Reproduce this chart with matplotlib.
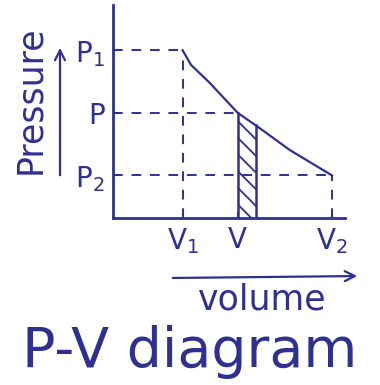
import numpy as np
import matplotlib.pyplot as plt
from matplotlib.patches import FancyArrowPatch

# volumes and pressures of the marked states
V1, V, dV_end, V2 = 2.4, 4.3, 4.93, 7.55
P1, P, P2 = 6.3, 3.95, 1.6

# expansion curve from (V1, P1) down to (V2, P2)
curve_v = [2.4, 2.69, 3.34, 4.3, 5.0, 6.1, 7.55]
curve_p = [6.3, 5.75, 5.07, 3.95, 3.42, 2.55, 1.6]

# thin strip under the curve (work element p dV)
strip_v = [V, dV_end]
strip_p = [P, 3.5]

vol_ticks = [V1, V, V2]
vol_labels = ["V$_1$", "V", "V$_2$"]
pr_ticks = [P2, P, P1]
pr_labels = ["P$_2$", "P", "P$_1$"]

ink = "#2e3192"
plt.rcParams["hatch.linewidth"] = 1.3
plt.rcParams["hatch.color"] = ink
plt.rcParams["mathtext.default"] = "regular"

fig = plt.figure(figsize=(3.8, 3.85), dpi=100)
ax = fig.add_axes([113 / 380, 167 / 385, 232 / 380, 213 / 385])
ax.set_xlim(0, 8)
ax.set_ylim(0, 8)

# pressure-volume curve
ax.plot(curve_v, curve_p, color=ink, lw=1.6, solid_joinstyle="round")

# dashed guide lines to the axes
dash = dict(color=ink, lw=1.4, dashes=(5, 4.5))
ax.plot([0, V1], [P1, P1], **dash)
ax.plot([0, V], [P, P], **dash)
ax.plot([0, V2], [P2, P2], **dash)
ax.plot([V1, V1], [0, P1], **dash)
ax.plot([V2, V2], [0, P2], **dash)

# hatched strip
ax.fill_between(strip_v, 0, strip_p, facecolor="none", edgecolor=ink,
                hatch="\\\\", lw=0)
ax.plot([V, V], [0, strip_p[0]], color=ink, lw=1.8)
ax.plot([dV_end, dV_end], [0, strip_p[1]], color=ink, lw=1.8)

for side in ["top", "right"]:
    ax.spines[side].set_visible(False)
for side in ["left", "bottom"]:
    ax.spines[side].set_color(ink)
    ax.spines[side].set_linewidth(2)

ax.set_xticks(vol_ticks)
ax.set_xticklabels(vol_labels)
ax.set_yticks(pr_ticks)
ax.set_yticklabels(pr_labels)
ax.tick_params(colors=ink, labelsize=20, length=4, width=1.5,
               direction="in", pad=6)

# axis names with arrows
fig.text(30 / 380, 1 - 100 / 385, "Pressure", rotation=90, color=ink,
         fontsize=25, ha="center", va="center")
fig.patches.append(FancyArrowPatch(
    (60 / 380, 1 - 178 / 385), (60 / 380, 1 - 45 / 385),
    transform=fig.transFigure, arrowstyle="->", mutation_scale=18,
    color=ink, lw=1.6))
fig.patches.append(FancyArrowPatch(
    (170 / 380, 1 - 278 / 385), (360 / 380, 1 - 276 / 385),
    transform=fig.transFigure, arrowstyle="->", mutation_scale=18,
    color=ink, lw=1.6))
fig.text(262 / 380, 1 - 300 / 385, "volume", color=ink, fontsize=25,
         ha="center", va="center")
fig.text(190 / 380, 1 - 352 / 385, "P-V diagram", color=ink, fontsize=40,
         ha="center", va="center")

fig.savefig("out.png", dpi=100)
